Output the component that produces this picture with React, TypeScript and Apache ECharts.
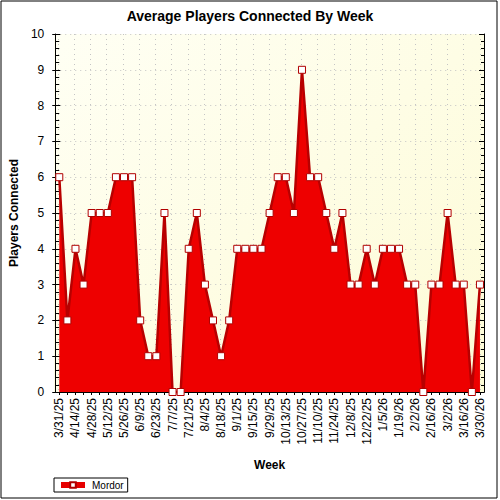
import React, { useEffect, useRef } from "react";
import * as echarts from "echarts";

const weeks: string[] = [
  "3/31/25", "4/7/25", "4/14/25", "4/21/25", "4/28/25", "5/5/25", "5/12/25", "5/19/25",
  "5/26/25", "6/2/25", "6/9/25", "6/16/25", "6/23/25", "6/30/25", "7/7/25", "7/14/25",
  "7/21/25", "7/28/25", "8/4/25", "8/11/25", "8/18/25", "8/25/25", "9/1/25", "9/8/25",
  "9/15/25", "9/22/25", "9/29/25", "10/6/25", "10/13/25", "10/20/25", "10/27/25", "11/3/25",
  "11/10/25", "11/17/25", "11/24/25", "12/1/25", "12/8/25", "12/15/25", "12/22/25", "12/29/25",
  "1/5/26", "1/12/26", "1/19/26", "1/26/26", "2/2/26", "2/9/26", "2/16/26", "2/23/26",
  "3/2/26", "3/9/26", "3/16/26", "3/23/26", "3/30/26",
];

const mordor: number[] = [
  6, 2, 4, 3, 5, 5, 5, 6, 6, 6,
  2, 1, 1, 5, 0, 0, 4, 5, 3, 2,
  1, 2, 4, 4, 4, 4, 5, 6, 6, 5,
  9, 6, 6, 5, 4, 5, 3, 3, 4, 3,
  4, 4, 4, 3, 3, 0, 3, 3, 5, 3,
  3, 0, 3,
];

const seriesName = "Mordor";
const titleText = "Average Players Connected By Week";
const yName = "Players Connected";
const xName = "Week";
const yMin = 0;
const yMax = 10;

const FONT = "'Liberation Sans', Arial, sans-serif";

export default function App() {
  const ref = useRef<HTMLDivElement>(null);

  useEffect(() => {
    document.body.style.margin = "0";
    if (!ref.current) return;
    const chart = echarts.init(ref.current, undefined, { renderer: "svg" });

    const gridLeft = 54;
    const gridRight = 16;
    const gridTop = 34;
    const gridBottom = 108;
    const plotW = 500 - gridLeft - gridRight;
    const half = plotW / weeks.length / 2;

    const dotted = { show: true, lineStyle: { color: "#c4c4c4", type: [1, 4] as any, width: 1 } };

    chart.setOption({
      animation: false,
      backgroundColor: "#ffffff",
      textStyle: { fontFamily: FONT },
      title: {
        text: titleText,
        left: "center",
        top: 4,
        textStyle: { fontFamily: FONT, fontSize: 14, fontWeight: "bold", color: "#000" },
      },
      graphic: [
        {
          type: "rect",
          z: -100,
          silent: true,
          shape: { x: gridLeft, y: gridTop, width: plotW, height: 500 - gridTop - gridBottom },
          style: {
            fill: new echarts.graphic.LinearGradient(0, 0, 1, 1, [
              { offset: 0, color: "#fffff4" },
              { offset: 1, color: "#fdfbd6" },
            ]),
          },
        },
        {
          type: "rect",
          z: 100,
          silent: true,
          shape: { x: 1, y: 1, width: 496, height: 497 },
          style: { fill: "none", stroke: "#000", lineWidth: 1 },
        },
      ],
      legend: {
        left: 54,
        top: 478,
        data: [seriesName],
        orient: "horizontal",
        itemWidth: 24,
        itemHeight: 7,
        itemGap: 5,
        padding: [2, 4, 2, 4],
        borderColor: "#000",
        borderWidth: 1,
        borderRadius: 0,
        backgroundColor: "#fff",
        lineStyle: { width: 6, color: "#e60000" },
        textStyle: { fontFamily: FONT, fontSize: 10, color: "#000", padding: [0, 0, 0, 2] },
      },
      grid: [
        { left: gridLeft, right: gridRight, top: gridTop, bottom: gridBottom, containLabel: false },
        {
          left: gridLeft + half,
          right: gridRight + half,
          top: gridTop,
          bottom: gridBottom,
          containLabel: false,
        },
      ],
      xAxis: [
        {
          type: "category",
          gridIndex: 0,
          position: "bottom",
          data: weeks,
          boundaryGap: true,
          name: xName,
          nameLocation: "middle",
          nameGap: 67,
          nameTextStyle: { fontFamily: FONT, fontSize: 12, fontWeight: "bold", color: "#000" },
          axisLine: { show: true, lineStyle: { color: "#000", width: 1 } },
          axisTick: { show: true, alignWithLabel: true, interval: 0, length: 3, lineStyle: { color: "#000" } },
          axisLabel: {
            interval: 1,
            rotate: 90,
            margin: 6,
            fontFamily: FONT,
            fontSize: 12,
            color: "#000",
          },
          splitLine: { show: false },
        },
        {
          type: "category",
          gridIndex: 0,
          position: "top",
          data: weeks,
          boundaryGap: true,
          axisLine: { show: true, lineStyle: { color: "#000", width: 1 } },
          axisTick: { show: true, alignWithLabel: true, interval: 0, inside: true, length: 3, lineStyle: { color: "#000" } },
          axisLabel: { show: false },
          splitLine: { show: false },
        },
        {
          type: "value",
          gridIndex: 1,
          min: 0,
          max: weeks.length - 1,
          interval: 2,
          axisLine: { show: false },
          axisTick: { show: false },
          axisLabel: { show: false },
          splitLine: dotted,
        },
      ],
      yAxis: [
        {
          type: "value",
          gridIndex: 0,
          position: "left",
          min: yMin,
          max: yMax,
          interval: 1,
          name: yName,
          nameLocation: "middle",
          nameGap: 31,
          nameTextStyle: { fontFamily: FONT, fontSize: 12, fontWeight: "bold", color: "#000" },
          axisLine: { show: true, lineStyle: { color: "#000", width: 1 } },
          axisTick: { show: true, inside: true, length: 5, lineStyle: { color: "#000" } },
          minorTick: { show: true, splitNumber: 5, length: 4, lineStyle: { color: "#000" } },
          axisLabel: { margin: 11, fontFamily: FONT, fontSize: 12, color: "#000" },
          splitLine: dotted,
        },
        {
          type: "value",
          gridIndex: 0,
          position: "left",
          min: yMin,
          max: yMax,
          interval: 1,
          axisLine: { show: false },
          axisTick: { show: true, inside: false, length: 3, lineStyle: { color: "#000" } },
          axisLabel: { show: false },
          splitLine: { show: false },
        },
        {
          type: "value",
          gridIndex: 0,
          position: "right",
          min: yMin,
          max: yMax,
          interval: 1,
          axisLine: { show: true, lineStyle: { color: "#000", width: 1 } },
          axisTick: { show: true, inside: true, length: 5, lineStyle: { color: "#000" } },
          minorTick: { show: true, splitNumber: 5, length: 3, lineStyle: { color: "#000" } },
          axisLabel: { show: false },
          splitLine: { show: false },
        },
        {
          type: "value",
          gridIndex: 1,
          min: yMin,
          max: yMax,
          show: false,
        },
      ],
      series: [
        {
          name: seriesName,
          type: "line",
          xAxisIndex: 0,
          yAxisIndex: 0,
          data: mordor,
          symbol: "rect",
          symbolSize: 7,
          showSymbol: true,
          showAllSymbol: true,
          clip: false,
          lineStyle: { color: "#b80000", width: 2.5 },
          itemStyle: { color: "#ffffff", borderColor: "#b00000", borderWidth: 1 },
          areaStyle: { color: "#ee0000", opacity: 1 },
          z: 3,
        },
      ],
    });

    return () => {
      chart.dispose();
    };
  }, []);

  return (
    <div
      ref={ref}
      style={{ position: "absolute", left: 0, top: 0, width: 500, height: 500 }}
    />
  );
}
